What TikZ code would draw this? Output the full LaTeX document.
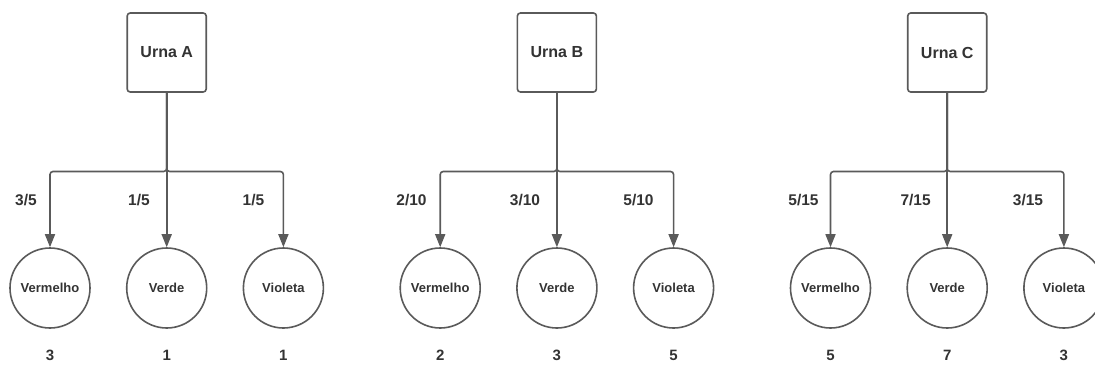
\documentclass[tikz,border=0pt]{standalone}
\usepackage{fontspec}
\setmainfont{Liberation Sans}
\usetikzlibrary{arrows.meta}
\definecolor{ln}{HTML}{5A5A5A}
\definecolor{tx}{HTML}{333333}
\begin{document}
\begin{tikzpicture}[x=1pt,y=-1pt,
  urn/.style={draw=ln,line width=1.6pt,rounded corners=3pt,minimum width=79pt,minimum height=79pt,inner sep=0pt,text=tx,font=\bfseries\fontsize{16}{18}\selectfont},
  ball/.style={circle,draw=ln,line width=1.6pt,minimum size=80pt,inner sep=0pt,text=tx,font=\bfseries\fontsize{13}{15}\selectfont},
  frac/.style={text=tx,font=\bfseries\fontsize{15.5}{17}\selectfont,inner sep=0pt},
  cnt/.style={text=tx,font=\bfseries\fontsize{15}{17}\selectfont,inner sep=0pt},
  conn/.style={draw=ln,line width=1.6pt,rounded corners=3pt,-{Triangle[length=13pt,width=10pt]}}]
\useasboundingbox (0,0) rectangle (1095,365);
\fill[white] (0,0) rectangle (1095,365);
\foreach \g/\cx/\fa/\fb/\fc/\xa/\xb/\xc/\na/\nb/\nc in {
  A/166.7/3\slash 5/1\slash 5/1\slash 5/26/139/253.5/3/1/1,
  B/556.9/2\slash 10/3\slash 10/5\slash 10/411.5/525/638.5/2/3/5,
  C/947.2/5\slash 15/7\slash 15/3\slash 15/803.5/915.6/1028/5/7/3}{
  \node[urn] (u\g) at (\cx,52.5) {Urna \g};
  \coordinate (j\g) at (\cx,171.5);
  \node[ball] (v\g) at (\cx-116.7,288) {Vermelho};
  \node[ball] (g\g) at (\cx,288) {Verde};
  \node[ball] (p\g) at (\cx+116.7,288) {Violeta};
  \draw[conn] (u\g.south) -- (j\g) -| (v\g.north);
  \draw[conn] (u\g.south) -- (g\g.north);
  \draw[conn] (u\g.south) -- (j\g) -| (p\g.north);
  \node[frac] (fv\g) at (\xa,200) {\fa};
  \node[frac] (fg\g) at (\xb,200) {\fb};
  \node[frac] (fp\g) at (\xc,200) {\fc};
  \node[cnt] (nv\g) at (\cx-116.7,355) {\na};
  \node[cnt] (ng\g) at (\cx,355) {\nb};
  \node[cnt] (np\g) at (\cx+116.7,355) {\nc};
}
\end{tikzpicture}
\end{document}
